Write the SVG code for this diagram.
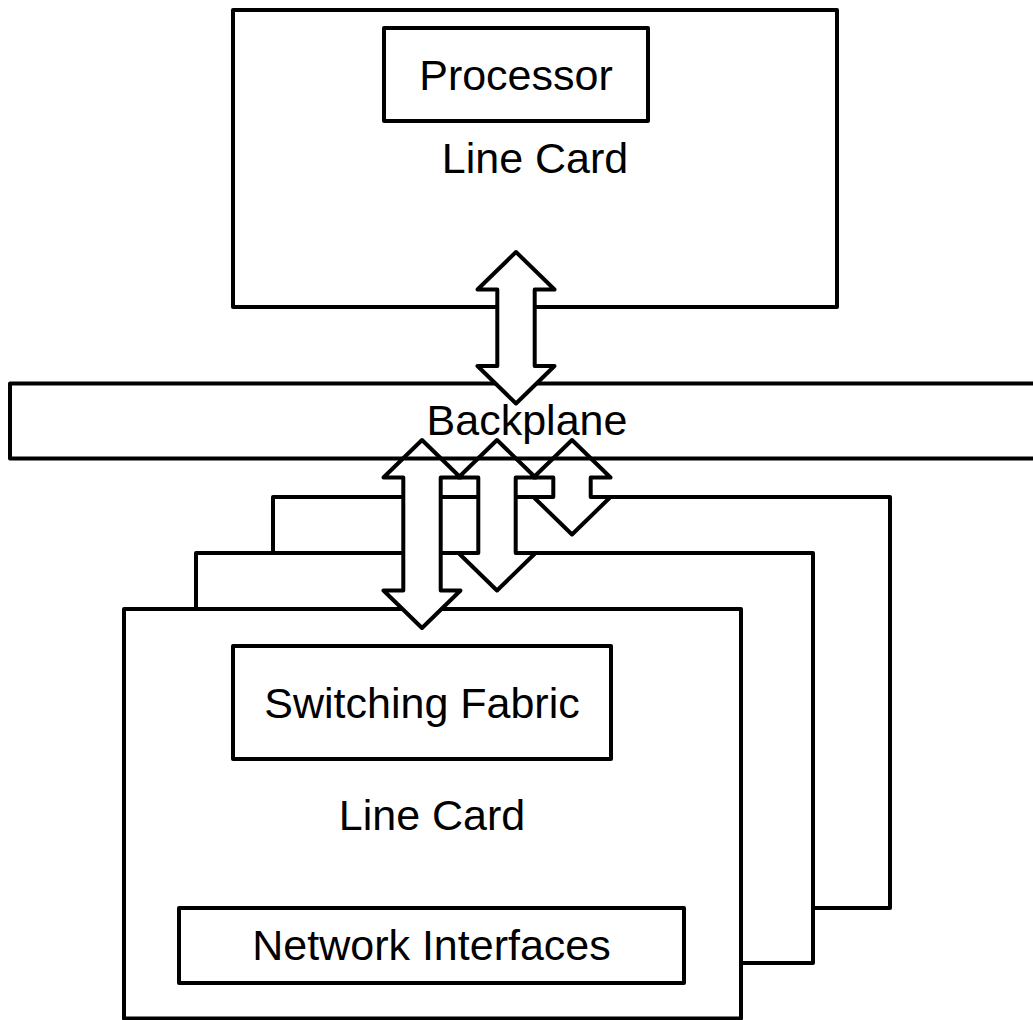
<svg xmlns="http://www.w3.org/2000/svg" width="1033" height="1020" viewBox="0 0 1033 1020">
  <style>
    .box { fill: #ffffff; stroke: #000000; stroke-width: 4; stroke-linejoin: round; }
    .open { fill: none; stroke: #000000; stroke-width: 4; stroke-linejoin: round; }
    .arrow { fill: #ffffff; stroke: #000000; stroke-width: 4; stroke-linejoin: round; }
    .lbl { font-family: "Liberation Sans", Arial, sans-serif; font-size: 43px; text-anchor: middle; fill: #000000; }
  </style>
  <rect width="1033" height="1020" fill="#ffffff"/>

  <g id="line-card-top">
    <rect class="box" x="233" y="10" width="604" height="297"/>
    <g id="processor">
      <rect class="box" x="384" y="28" width="264" height="93"/>
      <text class="lbl" x="516" y="90">Processor</text>
    </g>
    <text class="lbl" x="535" y="173">Line Card</text>
  </g>

  <g id="line-card-3">
    <rect class="box" x="273" y="497" width="617" height="411"/>
  </g>
  <g id="line-card-2">
    <rect class="box" x="196" y="553" width="617" height="410"/>
  </g>
  <g id="line-card-1">
    <rect class="box" x="124" y="609" width="617" height="409.5"/>
    <g id="switching-fabric">
      <rect class="box" x="233" y="646" width="378" height="113"/>
      <text class="lbl" x="422" y="718">Switching Fabric</text>
    </g>
    <text class="lbl" x="432" y="830">Line Card</text>
    <g id="network-interfaces">
      <rect class="box" x="179" y="908" width="505" height="75"/>
      <text class="lbl" x="431.5" y="960">Network Interfaces</text>
    </g>
  </g>

  <g id="connectors">
    <path class="arrow" d="M422,440 L460.5,477.5 L440.7,477.5 L440.7,590.5 L460.5,590.5 L422,628 L383.5,590.5 L403.3,590.5 L403.3,477.5 L383.5,477.5 Z"/>
    <path class="arrow" d="M497,440 L535.5,477.5 L515.7,477.5 L515.7,553 L535.5,553 L497,590.5 L458.5,553 L478.3,553 L478.3,477.5 L458.5,477.5 Z"/>
    <path class="arrow" d="M572,440 L610.5,477.5 L590.7,477.5 L590.7,497 L610.5,497 L572,534.5 L533.5,497 L553.3,497 L553.3,477.5 L533.5,477.5 Z"/>
    <path class="arrow" d="M516,252 L554.5,289.5 L534.7,289.5 L534.7,366 L554.5,366 L516,403.5 L477.5,366 L497.3,366 L497.3,289.5 L477.5,289.5 Z"/>
  </g>

  <g id="backplane">
    <path class="open" d="M495.5,383.5 H10 V458.5 H1045 V383.5 H536.5"/>
    <text class="lbl" x="527" y="435">Backplane</text>
  </g>
</svg>
